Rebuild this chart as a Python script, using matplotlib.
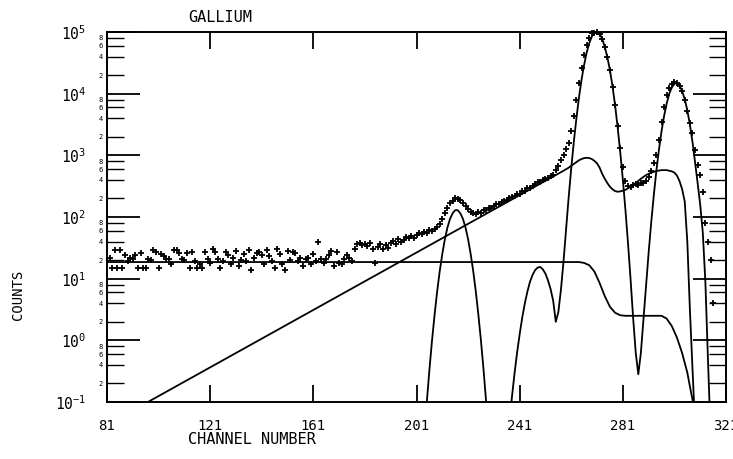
import numpy as np
import matplotlib.pyplot as plt
from matplotlib.ticker import LogLocator, FuncFormatter

plt.rcParams['font.family'] = 'DejaVu Sans Mono'
plt.rcParams['mathtext.fontset'] = 'custom'
plt.rcParams['mathtext.rm'] = 'DejaVu Sans Mono'

# measured spectrum, one value per channel (82..316)
channels = np.arange(82, 317)
counts = [
    22, 15, 29, 15, 29, 15, 24,
    19, 22, 21, 24, 15, 26, 15,
    15, 21, 20, 29, 27, 15, 25,
    23, 21, 21, 17, 29, 29, 26,
    21, 20, 26, 15, 27, 19, 15,
    17, 15, 27, 21, 18, 30, 27,
    21, 15, 19, 27, 24, 17, 22,
    28, 16, 20, 25, 19, 29, 14, 22, 26,
    27, 24, 17, 29, 23, 19, 15,
    30, 25, 17, 14, 28, 20, 27,
    26, 19, 22, 16, 21, 22, 17,
    25, 19, 40, 21, 18, 21, 24,
    28, 16, 27, 18, 17, 21, 24,
    22, 19, 30, 36, 38, 35, 37,
    34, 38, 30, 18, 33, 36, 30,
    35, 32, 38, 41, 36, 44, 40,
    43, 48, 45, 50, 46, 52, 55,
    54, 58, 56, 62, 60, 64, 68,
    76, 92, 118, 140, 170, 185, 200,
    195, 190, 170, 150, 135, 122, 115,
    112, 120, 118, 128, 130, 140, 142,
    150, 160, 162, 175, 180, 192, 200,
    212, 220, 235, 240, 260, 268, 290,
    300, 322, 340, 365, 375, 395, 410,
    430, 455, 480, 580, 680, 830, 1000,
    1250, 1600, 2500, 4300, 8000, 15000, 26000,
    42000, 62000, 80000, 95000, 98000, 100000, 92000,
    76000, 57000, 39000, 24000, 13000, 6500, 3000,
    1300, 650, 380, 320, 310, 330, 340,
    330, 350, 355, 380, 450, 560, 750,
    1000, 1750, 3500, 6000, 9500, 12500, 14500,
    15500, 15000, 13500, 11000, 8000, 5200, 3400,
    2300, 1200, 700, 480, 250, 80, 40, 20, 4,
]

# flat background with steps
step_ch = [81, 264, 266, 268, 270, 272, 274, 276, 278, 280, 282, 296, 298, 300,
           302, 304, 306, 307, 308, 308.6]
step_counts = [18.6, 18.6, 18.0, 16.5, 13.0, 8.5, 5.2, 3.5, 2.8, 2.55, 2.5, 2.5,
               2.25, 1.7, 1.1, 0.62, 0.3, 0.18, 0.11, 0.08]

# rising background (log10 counts)
ramp_ch = [96, 258, 260, 262, 264, 265, 266, 267, 268, 269, 270, 271, 272, 273,
           274, 275, 276, 277, 278, 279, 280, 282, 284, 286, 288, 290, 292, 294,
           296, 298, 300, 301, 302, 303, 304, 305, 306, 307, 308, 308.7]
ramp_log = [-1.02, 2.75, 2.80, 2.86, 2.92, 2.94, 2.955, 2.96, 2.955, 2.94, 2.91,
            2.87, 2.80, 2.70, 2.62, 2.55, 2.49, 2.45, 2.42, 2.41, 2.415, 2.44,
            2.49, 2.55, 2.62, 2.68, 2.72, 2.745, 2.76, 2.76, 2.74, 2.72, 2.67,
            2.58, 2.45, 2.25, 1.6, 0.5, -0.45, -1.1]

# small peak near channel 216 (log10 counts)
peak1_ch = np.arange(204, 230)
peak1_log = [-1.56, -1.0, -0.48, -0.01, 0.41, 0.79, 1.12, 1.40, 1.64, 1.83, 1.97,
             2.06, 2.11, 2.11, 2.06, 1.97, 1.83, 1.64, 1.40, 1.12, 0.79, 0.41,
             -0.01, -0.48, -1.0, -1.56]

# main peaks 249 / 271 / 302 (log10 counts)
peaks_ch = np.arange(236, 316)
peaks_log = [
    -1.8, -1.34, -0.92, -0.54, -0.20, 0.10, 0.37, 0.60, 0.79, 0.95,
    1.06, 1.14, 1.18, 1.19, 1.15, 1.08, 0.97, 0.83, 0.64, 0.30,
    0.46, 0.82, 1.28, 1.80, 2.32, 2.79, 3.22, 3.60, 3.94, 4.23,
    4.47, 4.67, 4.82, 4.93, 4.99, 5.00, 4.97, 4.89, 4.76, 4.59,
    4.38, 4.12, 3.81, 3.45, 3.05, 2.61, 2.12, 1.58, 0.99, 0.36,
    -0.20, -0.55, -0.20, 0.34, 0.88, 1.42, 1.91, 2.35, 2.75, 3.09,
    3.39, 3.64, 3.84, 4.00, 4.10, 4.16, 4.17, 4.13, 4.04, 3.91,
    3.73, 3.50, 3.22, 2.89, 2.55, 2.20, 1.75, 0.95, -0.3, -1.5,
]

fig = plt.figure(figsize=(7.33, 4.59), dpi=100)
ax = fig.add_axes([107/733, 57/459, 619/733, 370/459])

ax.plot(step_ch, step_counts, color='black', lw=1.3)
ax.plot(ramp_ch, np.power(10.0, ramp_log), color='black', lw=1.3)
ax.plot(peak1_ch, np.power(10.0, peak1_log), color='black', lw=1.3)
ax.plot(peaks_ch, np.power(10.0, peaks_log), color='black', lw=1.3)
ax.plot(channels, counts, linestyle='none', marker='+', color='black',
        ms=5, mew=1.3, clip_on=False)

ax.set_yscale('log')
ax.set_ylim(0.1, 1e5)
ax.set_xlim(81, 321)

ax.set_xticks([81, 121, 161, 201, 241, 281, 321])
ax.set_xticklabels(['81', '121', '161', '201', '241', '281', '321'])
ax.tick_params(axis='x', direction='in', length=12, width=1.3, top=True,
               labelsize=10, pad=12)

ax.yaxis.set_major_locator(LogLocator(base=10, numticks=10))
ax.yaxis.set_minor_locator(LogLocator(base=10, subs=(2, 4, 6, 8), numticks=10))
ax.yaxis.set_major_formatter(FuncFormatter(
    lambda v, p: r'$\mathregular{10^{%d}}$' % round(np.log10(v))))
ax.yaxis.set_minor_formatter(FuncFormatter(
    lambda v, p: '%d' % round(v / 10 ** np.floor(np.log10(v) + 1e-9))))
ax.tick_params(axis='y', which='major', direction='in', length=24, width=1.3,
               right=True, labelsize=10.5, pad=15)
ax.tick_params(axis='y', which='minor', direction='in', length=12, width=1.0,
               right=True, labelsize=5, pad=3)

for s in ax.spines.values():
    s.set_linewidth(1.4)

fig.text(188/733, 1 - 17/459, 'GALLIUM', fontsize=11, ha='left', va='center')
fig.text(18/733, 1 - 295/459, 'COUNTS', fontsize=10, rotation=90,
         ha='center', va='center')
fig.text(188/733, 1 - 440/459, 'CHANNEL NUMBER', fontsize=11, ha='left',
         va='center')

fig.savefig('out.png', dpi=100)
